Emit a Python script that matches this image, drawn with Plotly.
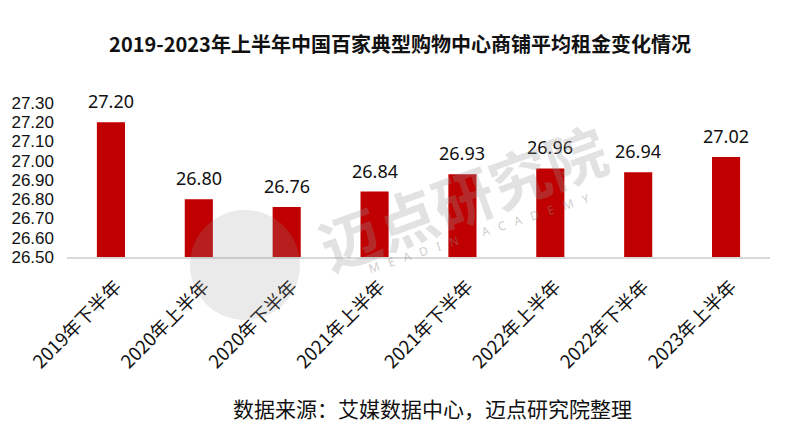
import plotly.graph_objects as go

categories = ["2019年下半年", "2020年上半年", "2020年下半年", "2021年上半年",
              "2021年下半年", "2022年上半年", "2022年下半年", "2023年上半年"]
rents = [27.20, 26.80, 26.76, 26.84, 26.93, 26.96, 26.94, 27.02]
y_ticks = [26.50, 26.60, 26.70, 26.80, 26.90, 27.00, 27.10, 27.20, 27.30]

title = "2019-2023年上半年中国百家典型购物中心商铺平均租金变化情况"
source = "数据来源：艾媒数据中心，迈点研究院整理"
watermark = "迈点研究院"
watermark_sub = "MEADIN ACADEMY"

FONT = "Noto Sans CJK SC"
NUMFONT = "Liberation Sans"

fig = go.Figure(go.Bar(
    x=categories, y=rents,
    marker=dict(color="#C00000", line=dict(width=0)),
    cliponaxis=False, hoverinfo="skip",
))

# value labels above bars
for c, v in zip(categories, rents):
    fig.add_annotation(x=c, y=v, text=f"{v:.2f}", showarrow=False,
                       yanchor="bottom", yshift=7,
                       font=dict(size=18, family="Noto Sans", color="#111111"))

NB = "\u00a0"
sub_text = (NB * 3).join(list("MEADIN")) + NB * 8 + (NB * 3).join(list("ACADEMY"))

fig.update_layout(
    width=800, height=442,
    paper_bgcolor="white", plot_bgcolor="white",
    margin=dict(l=67, r=30, t=103, b=185, autoexpand=False),
    bargap=0.68,
    showlegend=False,
    font=dict(family=FONT, color="#111111"),
    title=dict(text="<b>" + title + "</b>", x=0.5, xanchor="center",
               y=1 - 45 / 442, yanchor="middle",
               font=dict(size=20, family=FONT, color="#111111")),
    xaxis=dict(showline=True, linecolor="#d9d9d9", linewidth=1.5,
               ticks="", tickangle=-45, automargin=False,
               ticklabelstandoff=10, ticklabelshift=5,
               tickfont=dict(size=18.5, family=FONT, color="#111111"),
               showgrid=False),
    yaxis=dict(range=[26.50, 27.30], tickvals=y_ticks,
               ticktext=[f"{v:.2f}" for v in y_ticks], automargin=False,
               showgrid=False, showline=False, zeroline=False, ticks="",
               ticklabelstandoff=12,
               tickfont=dict(size=17, family=NUMFONT, color="#111111")),
    shapes=[
        dict(type="circle", xref="paper", yref="paper",
             x0=(190 - 67) / 703, x1=(300 - 67) / 703,
             y0=(257 - 320) / 154, y1=(257 - 210) / 154,
             fillcolor="rgba(150,150,150,0.2)", line=dict(width=0), layer="above"),
    ],
)

fig.add_annotation(text=source, x=(432 - 67) / 703, xref="paper",
                   y=-(408 - 257) / 154, yref="paper",
                   xanchor="center", yanchor="middle",
                   showarrow=False, font=dict(size=21, family=FONT, color="#111111"))
fig.add_annotation(text="<b>" + watermark + "</b>", xref="paper", yref="paper",
                   x=(462 - 67) / 703, y=(257 - 195) / 154,
                   xanchor="center", yanchor="middle",
                   showarrow=False, textangle=-20,
                   font=dict(size=60, family=FONT, color="rgba(150,150,150,0.28)"))
fig.add_annotation(text=sub_text, xref="paper", yref="paper",
                   x=(478 - 67) / 703, y=(257 - 233) / 154,
                   xanchor="center", yanchor="middle",
                   showarrow=False, textangle=-18,
                   font=dict(size=12, family="Noto Sans", color="rgba(140,140,140,0.45)"))

fig.write_html("out.html", config={"displayModeBar": False},
               post_script="document.body.style.margin='0';document.body.style.padding='0';")
